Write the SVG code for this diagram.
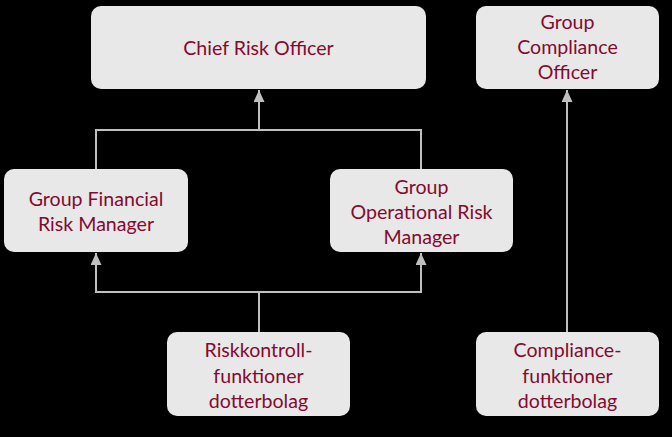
<svg xmlns="http://www.w3.org/2000/svg" width="672" height="437" viewBox="0 0 672 437">
<defs>
<style>
.box{fill:#e8e8e8;}
.t{font-family:Lato,"Open Sans","Liberation Sans",sans-serif;font-size:19.6px;fill:#840a2f;text-anchor:middle;}
.c{fill:none;stroke:#bfbfbf;stroke-width:2;}
</style>
<marker id="ah" viewBox="0 0 12 11" refX="12" refY="5.5" markerWidth="12" markerHeight="11" markerUnits="userSpaceOnUse" orient="auto">
<path d="M0,0 L12,5.5 L0,11 Z" fill="#bfbfbf"/>
</marker>
</defs>
<rect x="0" y="0" width="672" height="437" fill="#000"/>
<g id="connectors">
<path class="c" d="M96,169 V130 H421 V169"/>
<path class="c" d="M259,130 V90" marker-end="url(#ah)"/>
<path class="c" d="M259,332 V292 H96 V253" marker-end="url(#ah)"/>
<path class="c" d="M259,292 H421 V253" marker-end="url(#ah)"/>
<path class="c" d="M567,332 V90" marker-end="url(#ah)"/>
</g>
<g id="cro">
<rect class="box" x="91" y="6" width="335" height="83" rx="10"/>
<text class="t" x="258.5" y="55">Chief Risk Officer</text>
</g>
<g id="gco">
<rect class="box" x="476" y="6" width="183" height="83" rx="10"/>
<text class="t" x="567.5" y="29">Group</text>
<text class="t" x="567.5" y="54">Compliance</text>
<text class="t" x="567.5" y="79">Officer</text>
</g>
<g id="gfrm">
<rect class="box" x="4" y="169" width="184" height="83" rx="10"/>
<text class="t" x="96" y="206">Group Financial</text>
<text class="t" x="96" y="231">Risk Manager</text>
</g>
<g id="gorm">
<rect class="box" x="330" y="169" width="183" height="83" rx="10"/>
<text class="t" x="421.5" y="194">Group</text>
<text class="t" x="421.5" y="219">Operational Risk</text>
<text class="t" x="421.5" y="244">Manager</text>
</g>
<g id="rkf">
<rect class="box" x="167" y="332" width="183" height="84" rx="10"/>
<text class="t" x="258.5" y="357">Riskkontroll-</text>
<text class="t" x="258.5" y="383">funktioner</text>
<text class="t" x="258.5" y="408">dotterbolag</text>
</g>
<g id="cfd">
<rect class="box" x="476" y="332" width="183" height="84" rx="10"/>
<text class="t" x="567.5" y="357">Compliance-</text>
<text class="t" x="567.5" y="383">funktioner</text>
<text class="t" x="567.5" y="408">dotterbolag</text>
</g>
</svg>
